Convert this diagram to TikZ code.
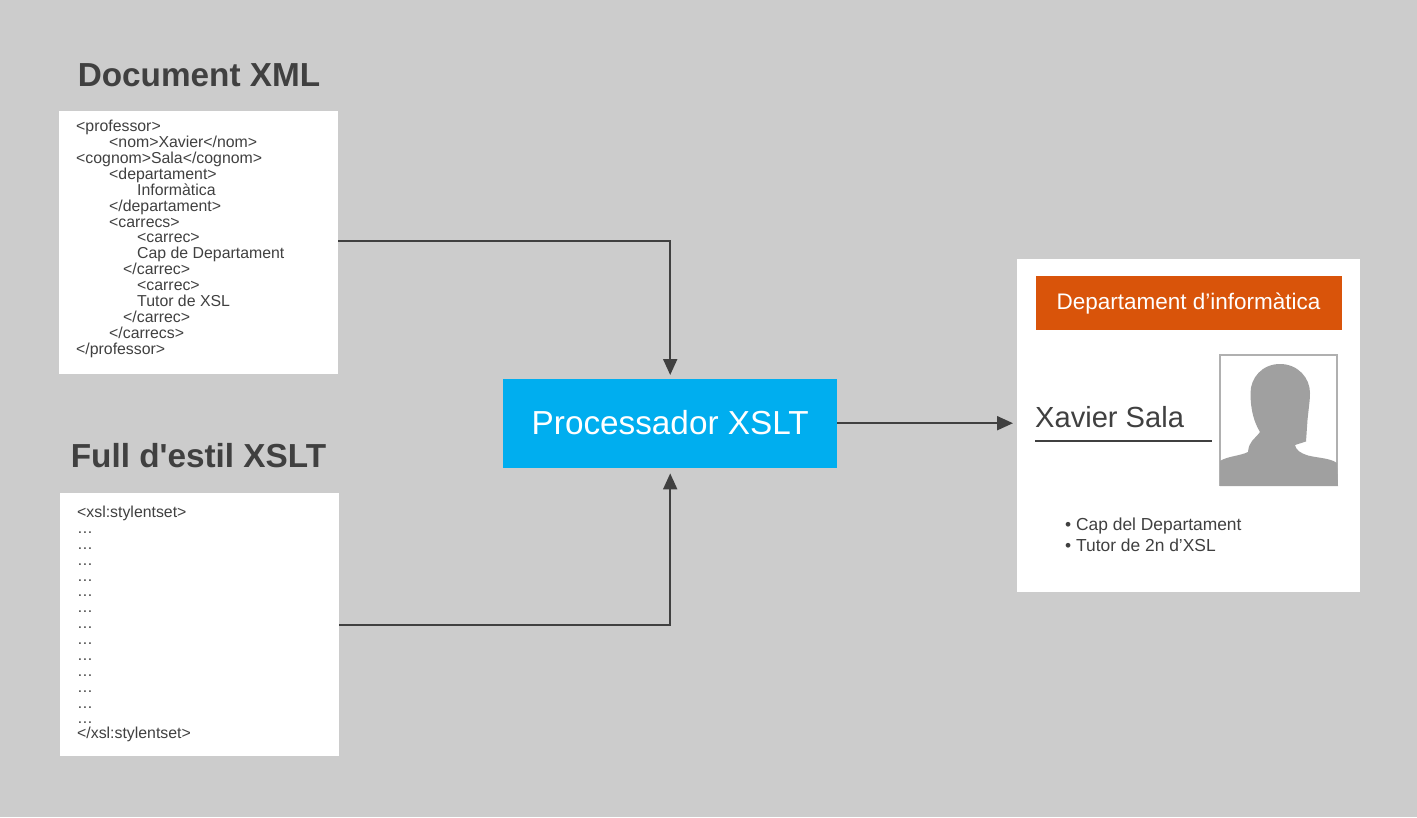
\documentclass[tikz,border=0pt]{standalone}
\usepackage{fontspec}
\setmainfont[Ligatures=TeXOff]{Liberation Sans}
\usetikzlibrary{arrows.meta,calc}
\definecolor{bgc}{HTML}{CCCCCC}
\definecolor{ink}{HTML}{404040}
\definecolor{procblue}{HTML}{00AEEF}
\definecolor{headorange}{HTML}{D9540A}
\definecolor{silh}{HTML}{A0A0A0}
\definecolor{frameg}{HTML}{B0B0B0}
\tikzset{
  whitebox/.style={fill=white,draw=none,inner sep=0pt,anchor=north west},
  title/.style={font=\fontsize{33.3}{34}\selectfont\bfseries,text=ink,inner sep=0pt,anchor=base},
  code/.style={font=\fontsize{15.85}{15.86}\selectfont,text=ink,inner sep=0pt,anchor=north west,align=left},
  conn/.style={draw=ink,line width=2pt,-{Triangle[length=16pt,width=14pt]}},
}
\begin{document}
\begin{tikzpicture}[x=1pt,y=-1pt]
\useasboundingbox (0,0) rectangle (1417,817);
\fill[bgc] (0,0) rectangle (1417,817);
% titles
\node[title] (t1) at (199,86) {Document XML};
\node[title] (t2) at (198.5,467) {Full d'estil XSLT};
% source boxes
\node[whitebox,minimum width=279pt,minimum height=263pt] (doc) at (59,111) {};
\node[whitebox,minimum width=279pt,minimum height=263pt] (xsl) at (60,493) {};
\node[code] (doctext) at (76,120.3) {%
<professor>\\
\hspace*{33pt}<nom>Xavier</nom>\\
<cognom>Sala</cognom>\\
\hspace*{33pt}<departament>\\
\hspace*{61pt}Informàtica\\
\hspace*{33pt}</departament>\\
\hspace*{33pt}<carrecs>\\
\hspace*{61pt}<carrec>\\
\hspace*{61pt}Cap de Departament\\
\hspace*{47pt}</carrec>\\
\hspace*{61pt}<carrec>\\
\hspace*{61pt}Tutor de XSL\\
\hspace*{47pt}</carrec>\\
\hspace*{33pt}</carrecs>\\
</professor>};
\node[code] (xsltext) at (77,506) {%
<xsl:stylentset>\\
…\\ …\\ …\\ …\\ …\\ …\\ …\\ …\\ …\\ …\\ …\\ …\\ …\\[-1.2pt]
</xsl:stylentset>};
% processor
\node[fill=procblue,text=white,inner sep=0pt,minimum width=334pt,minimum height=89pt,anchor=north west,
  font=\fontsize{33.3}{34}\selectfont] (proc) at (503,379) {\raisebox{2.5pt}{Processador XSLT}};
% result card
\node[whitebox,minimum width=343pt,minimum height=333pt] (card) at (1017,259) {};
\node[fill=headorange,text=white,inner sep=0pt,minimum width=306pt,minimum height=54pt,anchor=north west,
  font=\fontsize{22.5}{24}\selectfont] (head) at (1035.3,276) {Departament d’informàtica};
\node[anchor=base west,inner sep=0pt,text=ink,font=\fontsize{29.1}{30}\selectfont] (name) at (1035,427) {Xavier Sala};
\coordinate (ruleA) at (1035,441);
\coordinate (ruleB) at (1212,441);
\draw[ink,line width=2pt] (ruleA) -- (ruleB);
\node[anchor=north west,inner sep=0pt,text=ink,align=left,font=\fontsize{17.4}{21}\selectfont] (duties) at (1065,518)
  {• Cap del Departament\\• Tutor de 2n d’XSL};
% portrait
\draw[frameg,line width=2.2pt,fill=white] (1220,355) rectangle (1337,485);
\fill[silh] (1280,364)
  .. controls (1262,364) and (1250.5,378) .. (1250.5,393)
  .. controls (1250.5,410) and (1254,422) .. (1260,432)
  .. controls (1254,440) and (1249,441) .. (1248,452)
  .. controls (1240,456) and (1228,456) .. (1220,461)
  -- (1220,486) -- (1338,486) -- (1337,463)
  .. controls (1330,458) and (1318,458) .. (1308,455.5)
  .. controls (1300,453) and (1296,450) .. (1295,445)
  -- (1306,441.5) -- (1307.5,420)
  .. controls (1309,405) and (1310,400) .. (1310,393)
  .. controls (1310,378) and (1298,364) .. (1280,364) -- cycle;
% connectors
\draw[conn,shorten >=4pt] ([yshift=1.5pt]doc.east) -| (proc.north);
\draw[conn,shorten >=5pt] ([yshift=-0.5pt]xsl.east) -| (proc.south);
\draw[conn,shorten >=4pt] ([yshift=0.5pt]proc.east) -- (card.west |- {$(proc.east)+(0,-0.5)$});
\end{tikzpicture}
\end{document}
